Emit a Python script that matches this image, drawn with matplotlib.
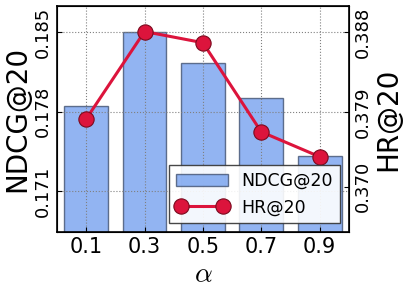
import numpy as np
import matplotlib
matplotlib.use("Agg")
import matplotlib.pyplot as plt
from matplotlib.ticker import FormatStrFormatter

plt.rcParams["mathtext.fontset"] = "cm"

alphas = [0.1, 0.3, 0.5, 0.7, 0.9]
alpha_labels = ["0.1", "0.3", "0.5", "0.7", "0.9"]
ndcg = [0.1785, 0.1850, 0.1823, 0.1792, 0.1741]
hr = [0.3779, 0.3881, 0.3868, 0.3764, 0.3735]

ndcg_ticks = [0.171, 0.178, 0.185]
hr_ticks = [0.370, 0.37871, 0.388]

fig, ax1 = plt.subplots(figsize=(4.07, 2.9), dpi=100)
fig.subplots_adjust(left=0.140, right=0.857, top=0.979, bottom=0.2)

bars = ax1.bar(alphas, ndcg, width=0.15, color="cornflowerblue", alpha=0.7,
               edgecolor="#2f3f5f", linewidth=1.0, label="NDCG@20", zorder=2)
ax1.set_xlim(0.0, 1.0)
ax1.set_ylim(0.16739, 0.18729)
ax1.set_xticks(alphas)
ax1.set_xticklabels(alpha_labels, fontsize=15)
ax1.set_yticks(ndcg_ticks)
ax1.yaxis.set_major_formatter(FormatStrFormatter("%.3f"))
ax1.tick_params(axis="y", labelsize=13, labelrotation=90, direction="in")
ax1.tick_params(axis="x", direction="in")
for lab in ax1.get_yticklabels():
    lab.set_va("center")
ax1.set_ylabel("NDCG@20", fontsize=20, labelpad=2)
ax1.set_xlabel(r"$\alpha$", fontsize=20, labelpad=2)
ax1.grid(True, linestyle=":", color="gray", linewidth=0.8, zorder=3)
ax1.set_axisbelow(False)

ax2 = ax1.twinx()
line, = ax2.plot(alphas, hr, color="crimson", linewidth=2.2, marker="o",
                 markersize=11, markeredgecolor="#7a0a1e", markeredgewidth=0.8,
                 label="HR@20", zorder=4)
ax2.set_ylim(0.36472, 0.39107)
ax2.set_yticks(hr_ticks)
ax2.yaxis.set_major_formatter(FormatStrFormatter("%.3f"))
ax2.tick_params(axis="y", labelsize=13, labelrotation=90, direction="in")
for lab in ax2.get_yticklabels():
    lab.set_va("center")
ax2.set_ylabel("HR@20", fontsize=20, labelpad=2)

for spine in ax1.spines.values():
    spine.set_linewidth(1.2)

leg = ax2.legend([bars, line], ["NDCG@20", "HR@20"], loc="lower right",
                 fontsize=12.5, fancybox=False, framealpha=0.9, edgecolor="#333333",
                 numpoints=2, handlelength=3.0)
leg.get_frame().set_linewidth(1.0)

fig.savefig("out.png", dpi=100)
